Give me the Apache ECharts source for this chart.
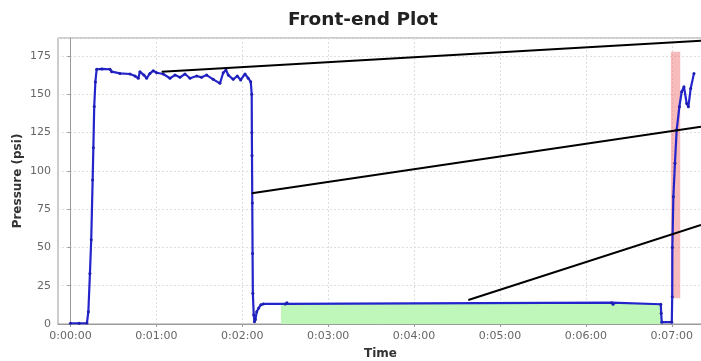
<!DOCTYPE html>
<html>
<head>
<meta charset="utf-8">
<title>Front-end Plot</title>
<script src="https://cdn.jsdelivr.net/npm/echarts@6/dist/echarts.min.js"></script>
<style>
  html, body { margin: 0; padding: 0; background: #fff; }
  #chart { width: 701px; height: 361px; }
</style>
</head>
<body>
<div id="chart"></div>
<script>
// time in seconds, pressure in psi
const timeSec = [0, 6, 11.5, 12.5, 13.6, 14.5, 15.5, 16.0, 16.6, 17.4, 18.3, 22, 27.6, 28.8, 34.6, 41.6, 45.1, 47.4,
  48.5, 51.3, 53.2, 55.5, 57.8, 60.2, 64.8, 69.5, 73.0, 76.5, 80.0, 83.5, 88.2, 91.6, 95.1, 99.7, 104.4, 106.7,
  108.6, 110.2, 113.7, 116.5, 118.9, 121.9, 124.2, 125.9, 126.6, 126.7, 126.8, 127.0, 127.2, 127.4, 128.0, 128.5,
  129.2, 130.1, 131.5, 133, 134.7, 150, 151.2, 378, 379, 412.3, 412.6, 413.0, 420.0, 420.3, 420.4, 421.1, 422.2,
  423.4, 425.3, 426.9, 428.5, 430.4, 431.6, 433.2, 435.5]
const pressure = [0.5, 0.5, 0.6, 8, 33, 55, 94, 115, 142, 158, 166.3, 166.5, 166.3, 164.7, 163.6, 163.2, 161.9, 160.4,
  164.7, 162.5, 160.4, 163.6, 165.3, 164.0, 163.2, 160.4, 162.5, 161.0, 163.2, 160.4, 161.9, 161.0, 162.5, 159.7,
  157.1, 164.0, 165.8, 162.5, 159.7, 161.9, 159.3, 163.2, 160.4, 158.2, 150, 125, 110, 79, 46, 20, 6, 1.5,
  3, 8, 10.5, 12.5, 13.1, 13.1, 13.9, 13.9, 12.9, 12.9, 7, 1.2, 1.2, 17.8, 50, 83, 104.9,
  126.6, 141.8, 151.6, 154.9, 144, 141.8, 153.8, 163.6]

const timeTicks = [0, 60, 120, 180, 240, 300, 360, 420]
const pressureTicks = [0, 25, 50, 75, 100, 125, 150, 175]

// shaded windows [tStart, tEnd, pLow, pHigh]
const greenWindow = [147, 412.5, 0, 13.3]
const redWindow = [419.4, 425.9, 16.8, 177.7]

// callout lines [tStart, pStart, tEnd, pEnd]
const callouts = [
  [63.7, 164.7, 440.4, 184.9],
  [126.6, 85.3, 440.4, 128.8],
  [277.9, 15.7, 440.4, 64.6]
]

const fmtTime = (s) => {
  const h = Math.floor(s / 3600)
  const m = Math.floor((s % 3600) / 60)
  const sec = Math.round(s % 60)
  return h + ':' + String(m).padStart(2, '0') + ':' + String(sec).padStart(2, '0')
}

const font = 'DejaVu Sans'
const gridLine = { show: true, lineStyle: { color: '#dedede', type: [2, 2], width: 1 } }

const option = {
  animation: false,
  textStyle: { fontFamily: font },
  title: {
    text: 'Front-end Plot',
    left: 283,
    top: 6,
    textStyle: { fontFamily: font, fontSize: 18.5, fontWeight: 'bold', color: '#222' }
  },
  grid: {
    left: 58,
    right: -2,
    top: 38,
    bottom: 37,
    show: true,
    borderColor: '#9a9a9a',
    borderWidth: 1,
    outerBoundsMode: 'none'
  },
  xAxis: {
    type: 'value',
    min: -8.7,
    max: 441.8,
    name: 'Time',
    nameLocation: 'middle',
    nameGap: 24,
    nameMoveOverlap: false,
    nameTextStyle: { fontFamily: font, fontSize: 12, fontWeight: 'bold', color: '#333' },
    axisLine: { show: true, lineStyle: { color: '#9a9a9a' } },
    axisTick: { show: true, length: 3, customValues: timeTicks, lineStyle: { color: '#9a9a9a' } },
    axisLabel: {
      customValues: timeTicks,
      formatter: fmtTime,
      color: '#666',
      fontSize: 11,
      margin: 7
    },
    splitLine: gridLine
  },
  yAxis: {
    type: 'value',
    min: 0,
    max: 186.7,
    interval: 25,
    name: 'Pressure (psi)',
    nameLocation: 'middle',
    nameGap: 34,
    nameMoveOverlap: false,
    nameTextStyle: { fontFamily: font, fontSize: 12, fontWeight: 'bold', color: '#333' },
    axisLine: { show: true, lineStyle: { color: '#9a9a9a' } },
    axisTick: { show: true, length: 3, lineStyle: { color: '#9a9a9a' } },
    axisLabel: {
      showMaxLabel: false,
      color: '#666',
      fontSize: 11,
      margin: 7,
      formatter: (v) => (pressureTicks.includes(v) ? String(v) : '')
    },
    splitLine: gridLine
  },
  series: [
    {
      type: 'line',
      data: [],
      z: 1,
      markArea: {
        silent: true,
        itemStyle: { color: '#bff6b9' },
        data: [[
          { xAxis: greenWindow[0], yAxis: greenWindow[2] },
          { xAxis: greenWindow[1], yAxis: greenWindow[3] }
        ]]
      }
    },
    {
      type: 'line',
      data: timeSec.map((t, i) => [t, pressure[i]]),
      z: 3,
      showSymbol: true,
      symbol: 'circle',
      symbolSize: 3,
      itemStyle: { color: '#1e1eb0' },
      lineStyle: { color: '#2424cc', width: 2.2 }
    },
    {
      type: 'line',
      data: [],
      z: 4,
      markArea: {
        silent: true,
        itemStyle: { color: 'rgba(240, 120, 120, 0.5)' },
        data: [[
          { xAxis: redWindow[0], yAxis: redWindow[2] },
          { xAxis: redWindow[1], yAxis: redWindow[3] }
        ]]
      }
    },
    ...callouts.map(c => ({
      type: 'line',
      data: [[c[0], c[1]], [c[2], c[3]]],
      z: 5,
      showSymbol: false,
      clip: false,
      lineStyle: { color: '#000', width: 2 }
    }))
  ]
}

const chart = echarts.init(document.getElementById('chart'))
chart.setOption(option)
</script>
</body>
</html>
